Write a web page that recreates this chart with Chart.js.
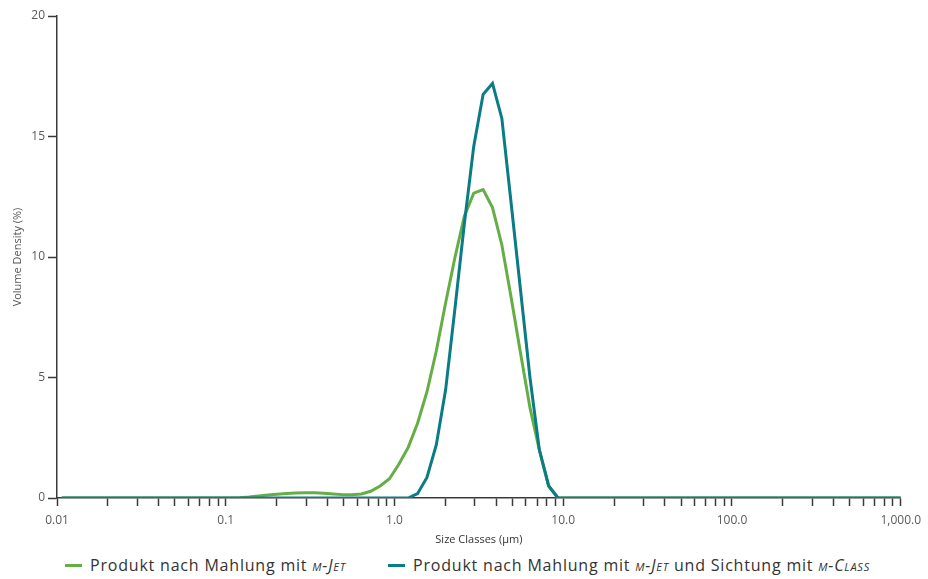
<!DOCTYPE html>
<html>
<head>
<meta charset="utf-8">
<script src="https://cdn.jsdelivr.net/npm/chart.js@4"></script>
<style>
  body { margin: 0; background: #fff; font-family: "Open Sans", sans-serif; }
  #wrap { position: relative; width: 928px; height: 579px; }
  #myChart { position: absolute; left: 0; top: 0; }
  .legend-item { position: absolute; top: 554px; font-size: 16px; letter-spacing: 0.8px; color: #333; white-space: nowrap; }
  .legend-item .swatch { display: inline-block; width: 17px; height: 3px; vertical-align: middle; margin-right: 8px; position: relative; top: -1px; }
  .sc { font-style: italic; font-variant: small-caps; }
</style>
</head>
<body>
<div id="wrap">
  <canvas id="myChart" width="928" height="550"></canvas>
  <div class="legend-item" style="left:65px"><span class="swatch" style="background:#65ae45"></span>Produkt nach Mahlung mit <span class="sc">m-Jet</span></div>
  <div class="legend-item" style="left:388px"><span class="swatch" style="background:#097c85"></span>Produkt nach Mahlung mit <span class="sc">m-Jet</span> und Sichtung mit <span class="sc">m-Class</span></div>
</div>
<script>
// size classes (µm)
const sizes = [0.01066, 0.0936, 0.1063, 0.1208, 0.1373, 0.1560, 0.1773, 0.2014, 0.2289, 0.2601,
  0.2956, 0.3358, 0.3816, 0.4336, 0.4928, 0.5599, 0.6362, 0.7229, 0.8216, 0.9338,
  1.061, 1.206, 1.370, 1.557, 1.769, 2.010, 2.285, 2.596, 2.950, 3.352,
  3.809, 4.328, 4.918, 5.589, 6.351, 7.217, 8.200, 9.316, 10.59, 1000];

// Produkt nach Mahlung mit m-Jet
const jetValues = [0, 0, 0, 0.01, 0.04, 0.08, 0.12, 0.16, 0.19, 0.21,
  0.22, 0.22, 0.2, 0.17, 0.14, 0.13, 0.17, 0.28, 0.5, 0.8,
  1.4, 2.1, 3.1, 4.4, 6.1, 8.1, 10.0, 11.7, 12.65, 12.8,
  12.05, 10.5, 8.3, 6.0, 3.75, 2.0, 0.5, 0, 0, 0];

// Produkt nach Mahlung mit m-Jet und Sichtung mit m-Class
const classValues = [0, 0, 0, 0, 0, 0, 0, 0, 0, 0,
  0, 0, 0, 0, 0, 0, 0, 0, 0, 0,
  0, 0, 0.18, 0.85, 2.2, 4.5, 7.9, 11.4, 14.6, 16.75,
  17.2, 15.75, 12.2, 8.6, 5.0, 2.0, 0.5, 0, 0, 0];

const yTicks = [0, 5, 10, 15, 20];
const xMajor = [0.01, 0.1, 1, 10, 100, 1000];
const xLabels = ["0.01", "0.1", "1.0", "10.0", "100.0", "1,000.0"];

const toPoints = (vals) => sizes.map((s, i) => ({ x: s, y: vals[i] }));

const axisColor = "#3a3a3a";
const labelColor = "#5a5a5a";

const ctx = document.getElementById("myChart");

new Chart(ctx, {
  type: "line",
  data: {
    datasets: [
      {
        label: "Produkt nach Mahlung mit m-Jet",
        data: toPoints(jetValues),
        borderColor: "#65ae45",
        borderWidth: 3,
        pointRadius: 0,
        tension: 0,
        order: 1,
      },
      {
        label: "Produkt nach Mahlung mit m-Jet und Sichtung mit m-Class",
        data: toPoints(classValues),
        borderColor: "#097c85",
        borderWidth: 3,
        pointRadius: 0,
        tension: 0,
        order: 0,
      },
    ],
  },
  options: {
    responsive: false,
    animation: false,
    layout: { padding: { top: 16, right: 26, left: 0, bottom: 0 } },
    plugins: { legend: { display: false }, tooltip: { enabled: false } },
    scales: {
      x: {
        type: "logarithmic",
        min: 0.01,
        max: 1000,
        afterBuildTicks: (axis) => {
          let t = [];
          for (let e = -2; e < 3; e++) {
            for (let k = 1; k < 10; k++) {
              t.push({ value: k * Math.pow(10, e) });
            }
          }
          t.push({ value: 1000 });
          axis.ticks = t;
        },
        afterFit: (axis) => { axis.height = 52; },
        border: { color: axisColor, width: 1.5 },
        grid: { drawOnChartArea: false, drawTicks: true, tickLength: 8, color: axisColor, tickWidth: 1.5 },
        ticks: {
          autoSkip: false,
          maxRotation: 0,
          padding: 7,
          color: labelColor,
          font: { family: "Open Sans", size: 12 },
          callback: (v) => {
            const i = xMajor.findIndex((m) => Math.abs(v - m) / m < 1e-6);
            return i >= 0 ? xLabels[i] : "";
          },
        },
        title: {
          display: true,
          text: "Size Classes (µm)",
          color: "#333",
          font: { family: "Open Sans", size: 11 },
          padding: { top: 0, bottom: 4 },
        },
      },
      y: {
        min: 0,
        max: 20,
        afterBuildTicks: (axis) => { axis.ticks = yTicks.map((v) => ({ value: v })); },
        afterFit: (axis) => { axis.width = 57; },
        border: { color: axisColor, width: 1.5 },
        grid: { drawOnChartArea: false, drawTicks: true, tickLength: 9, color: axisColor, tickWidth: 1.5 },
        ticks: {
          padding: 3,
          color: labelColor,
          font: { family: "Open Sans", size: 12 },
        },
        title: {
          display: true,
          text: "Volume Density (%)",
          color: "#555",
          font: { family: "Open Sans", size: 11 },
          padding: { top: 11, bottom: 0 },
        },
      },
    },
  },
});
</script>
</body>
</html>
